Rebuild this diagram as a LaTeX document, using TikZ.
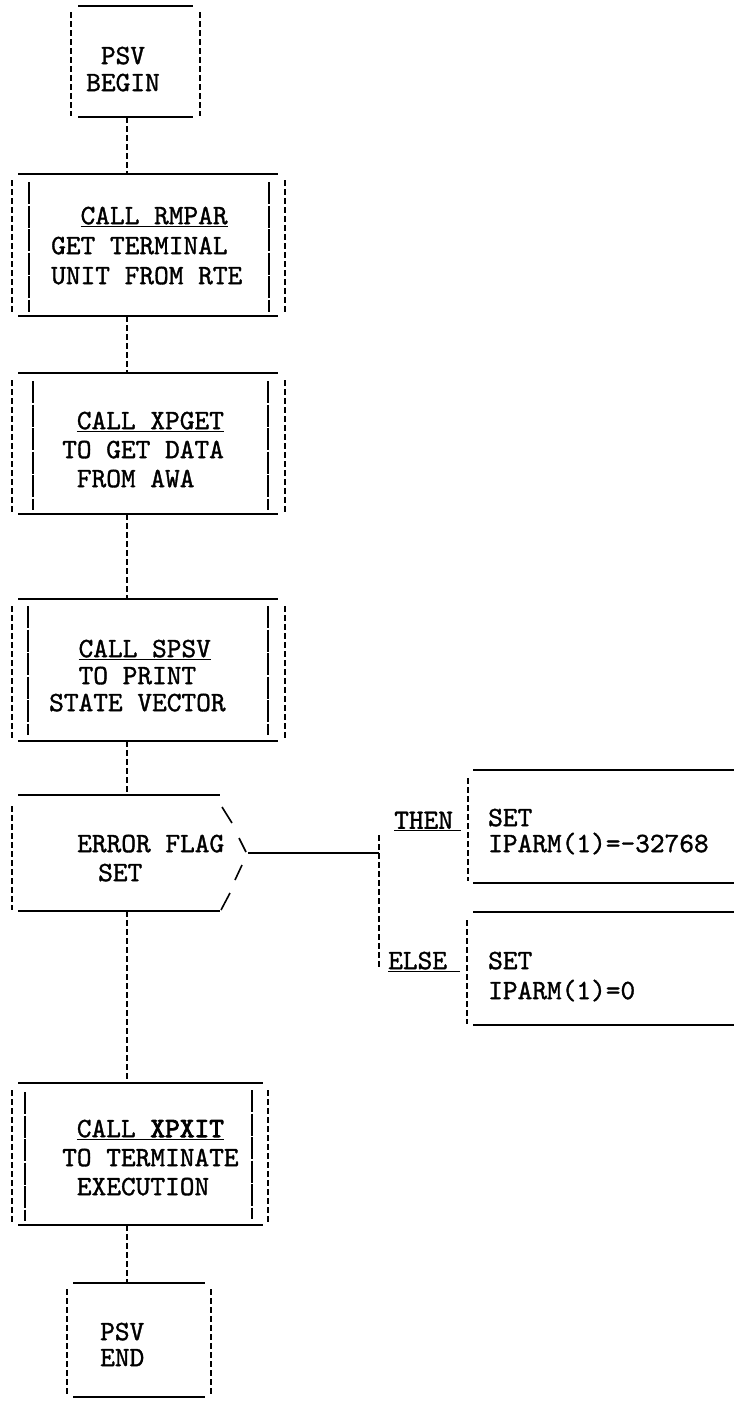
\documentclass[tikz,border=0pt]{standalone}
\usepackage{fontspec}
\newfontfamily\tw{lmmono10-regular.otf}[FakeBold=1.2]
\newfontfamily\twb{lmmono10-regular.otf}[FakeBold=3]
\begin{document}
\begin{tikzpicture}[x=1pt,y=-1pt,
  hl/.style={line width=1.8pt},
  vb/.style={line width=1.3pt, dash pattern=on 6pt off 3pt},
  vi/.style={line width=2.2pt, dash pattern=on 22pt off 1.5pt},
  frame/.style={draw=none, inner sep=0pt, rectangle},
  txt/.style={font=\tw\fontsize{28}{29}\selectfont, inner sep=0pt, align=left, anchor=north west},
]
\useasboundingbox[fill=white] (0,0) rectangle (734,1403);
\coordinate (spine) at (127,0);

% ---------- PSV BEGIN ----------
\node[frame, minimum width=129, minimum height=111] (b1) at (135.5,61.5) {};
\draw[hl] (78,6) -- (193,6);
\draw[hl] (78,117) -- (193,117);
\draw[vb] (71,12) -- (71,116);
\draw[vb] (200,12) -- (200,116);
\node[txt, align=center, anchor=north] (t1) at (123,46.5) {PSV\\[-2pt]BEGIN};

% ---------- CALL RMPAR ----------
\node[frame, minimum width=273, minimum height=142] (b2) at (148.5,245) {};
\draw[hl] (18,174) -- (278,174);
\draw[hl] (18,316) -- (278,316);
\draw[vb] (12,180) -- (12,314);
\draw[vb] (285,180) -- (285,314);
\draw[vi] (29,182) -- (29,312);
\draw[vi] (269,182) -- (269,312);
\node[txt] (t2) at (51,206.5) {\hphantom{XX}\underline{CALL RMPAR}\\[1pt]GET TERMINAL\\[1pt]UNIT FROM RTE};

% ---------- CALL XPGET ----------
\node[frame, minimum width=273, minimum height=141] (b3) at (148.5,443.5) {};
\draw[hl] (18,373) -- (278,373);
\draw[hl] (18,514) -- (278,514);
\draw[vb] (12,380) -- (12,512);
\draw[vb] (285,380) -- (285,512);
\draw[vi] (33,381) -- (33,510);
\draw[vi] (268,381) -- (268,510);
\node[txt] (t3) at (62,411.5) {\hphantom{X}\underline{CALL XPGET}\\TO GET DATA\\\hphantom{X}FROM AWA};

% ---------- CALL SPSV ----------
\node[frame, minimum width=273, minimum height=142] (b4) at (148.5,670) {};
\draw[hl] (18,599) -- (278,599);
\draw[hl] (18,741) -- (278,741);
\draw[vb] (12,606) -- (12,739);
\draw[vb] (285,606) -- (285,739);
\draw[vi] (28,606) -- (28,735);
\draw[vi] (268,606) -- (268,735);
\node[txt] (t4) at (49,639.5) {\hphantom{XX}\underline{CALL SPSV}\\[-2pt]\hphantom{XX}TO PRINT\\[-2pt]STATE VECTOR};

% ---------- ERROR FLAG SET (decision) ----------
\node[frame, minimum width=236, minimum height=116] (d) at (130,853) {};
\draw[hl] (18,795) -- (220,795);
\draw[hl] (18,911) -- (220,911);
\draw[vb] (12,806) -- (12,910);
\draw[line width=1.6pt] (222,807) -- (232,823);
\draw[line width=1.6pt] (239,838) -- (246,852);
\draw[line width=1.6pt] (242,865) -- (235,880);
\draw[line width=1.6pt] (230,893) -- (221,910);
\node[txt] (t5) at (77,834.5) {ERROR FLAG\\\hspace{21pt}SET};

% branch
\coordinate (br) at (379,853);
\coordinate (brtop) at (379,835);
\coordinate (brbot) at (379,968);
\draw[hl] (d.east) -- (br);
\draw[vb] (brtop) -- (brbot);
\node[txt] (then) at (394,811.5) {\underline{THEN\hspace{8pt}}};
\node[txt] (else) at (388,951.5) {\underline{ELSE\hspace{13pt}}};

% THEN box
\node[frame, minimum width=266, minimum height=113] (tb) at (601,826.5) {};
\draw[hl] (473,770) -- (734,770);
\draw[hl] (473,883) -- (734,883);
\draw[vb] (468,778) -- (468,881);
\node[txt] (t6) at (488,808.5) {SET\\[-3pt]IPARM(1)=-32768};

% ELSE box
\node[frame, minimum width=266, minimum height=113] (eb) at (601,968.5) {};
\draw[hl] (473,912) -- (734,912);
\draw[hl] (473,1025) -- (734,1025);
\draw[vb] (467,920) -- (467,1024);
\node[txt] (t7) at (488,951.5) {SET\\[1pt]IPARM(1)=0};

% ---------- CALL XPXIT ----------
\node[frame, minimum width=256, minimum height=142] (b5) at (140,1154) {};
\draw[hl] (18,1083) -- (263,1083);
\draw[hl] (18,1225) -- (263,1225);
\draw[vb] (12,1090) -- (12,1223);
\draw[vb] (268,1090) -- (268,1223);
\draw[vi] (25,1092) -- (25,1221);
\draw[vi] (252,1090) -- (252,1219);
\node[txt] (t8) at (62,1119.5) {\hphantom{X}\underline{CALL {\twb XPXIT}}\\TO TERMINATE\\\hphantom{X}EXECUTION};

% ---------- PSV END ----------
\node[frame, minimum width=144, minimum height=114] (b6) at (139,1340) {};
\draw[hl] (73,1283) -- (205,1283);
\draw[hl] (73,1397) -- (205,1397);
\draw[vb] (67,1289) -- (67,1395);
\draw[vb] (211,1289) -- (211,1395);
\node[txt] (t9) at (100,1322.5) {PSV\\[-3pt]END};

% ---------- connectors ----------
\draw[vb] (b1.south -| spine) -- (b2.north -| spine);
\draw[vb] (b2.south -| spine) -- (b3.north -| spine);
\draw[vb] (b3.south -| spine) -- (b4.north -| spine);
\draw[vb] (b4.south -| spine) -- (d.north -| spine);
\draw[vb] (d.south -| spine) -- (b5.north -| spine);
\draw[vb] (b5.south -| spine) -- (b6.north -| spine);
\end{tikzpicture}
\end{document}
